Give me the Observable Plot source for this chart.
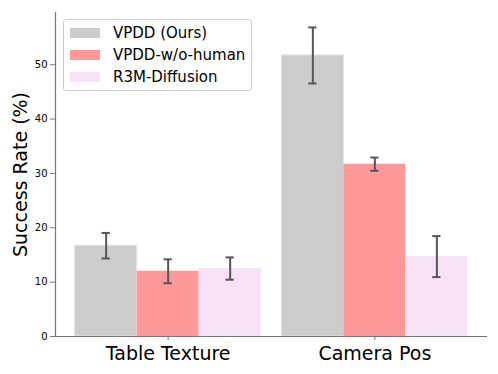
<!DOCTYPE html>
<html>
<head>
<meta charset="utf-8">
<script src="https://cdn.jsdelivr.net/npm/d3@7"></script>
<script src="https://cdn.jsdelivr.net/npm/@observablehq/plot@0.6"></script>
<style>
  html, body { margin: 0; padding: 0; background: #fff; }
  #wrap { position: relative; width: 498px; height: 374px; font-family: "DejaVu Sans", sans-serif; }
  #legend { position: absolute; left: 63px; top: 19px; width: 187px; height: 70px;
    border: 1px solid #d0d0d0; border-radius: 3px; background: rgba(255,255,255,0.8); }
  .row { position: absolute; left: 6px; height: 22px; display: flex; align-items: center; }
  .sw { width: 30px; height: 10px; margin-right: 13px; }
  .lab { font-size: 15px; color: #000; white-space: nowrap; }
</style>
</head>
<body>
<div id="wrap"></div>
<script>
const groups = ["Table Texture", "Camera Pos"];
const methods = ["VPDD (Ours)", "VPDD-w/o-human", "R3M-Diffusion"];
const colors = ["#cccccc", "#ff9999", "#f7e1f5"];
const vpdd = [16.7, 51.7];
const vpddErr = [2.35, 5.15];
const woHuman = [12.0, 31.7];
const woHumanErr = [2.2, 1.22];
const r3m = [12.5, 14.7];
const r3mErr = [2.05, 3.77];
const yTicks = [0, 10, 20, 30, 40, 50];

const seriesVals = [vpdd, woHuman, r3m];
const seriesErr = [vpddErr, woHumanErr, r3mErr];
const barW = 0.3;
const data = [];
methods.forEach((m, j) => {
  groups.forEach((g, i) => {
    data.push({group: g, method: m, value: seriesVals[j][i], err: seriesErr[j][i], pos: i + (j - 1) * barW});
  });
});
const xDomain = [-0.545, 1.545];
const capHalf = 0.02;

const chart = Plot.plot({
  width: 498,
  height: 374,
  marginLeft: 55,
  marginRight: 11,
  marginTop: 12,
  marginBottom: 38,
  style: {fontFamily: "'DejaVu Sans', sans-serif", color: "#000", background: "white"},
  x: {type: "linear", domain: xDomain, axis: null},
  y: {domain: [0, 59.6], axis: null},
  color: {domain: methods, range: colors},
  marks: [
    Plot.rect(data, {x1: d => d.pos - barW / 2, x2: d => d.pos + barW / 2, y1: 0, y2: "value", fill: "method", stroke: d => d.method === methods[0] ? "#e4e4e4" : "none", strokeWidth: 1}),
    Plot.ruleX(data, {x: "pos", y1: d => d.value - d.err, y2: d => d.value + d.err, stroke: "#555", strokeWidth: 2}),
    Plot.ruleY(data, {y: d => d.value + d.err, x1: d => d.pos - capHalf, x2: d => d.pos + capHalf, stroke: "#555", strokeWidth: 2}),
    Plot.ruleY(data, {y: d => d.value - d.err, x1: d => d.pos - capHalf, x2: d => d.pos + capHalf, stroke: "#555", strokeWidth: 2}),
    Plot.axisY({ticks: yTicks, tickSize: 5, tickPadding: 3, fontSize: 10, label: null, stroke: "#777"}),
    Plot.axisX({ticks: [0, 1], tickFormat: i => groups[i], tickSize: 4, tickPadding: 6, fontSize: 19, label: null, stroke: "#777"}),
    Plot.ruleX([xDomain[0]], {stroke: "#777", strokeWidth: 1.2}),
    Plot.ruleY([0], {stroke: "#777", strokeWidth: 1.2}),
    Plot.text(["Success Rate (%)"], {frameAnchor: "left", dx: -35, rotate: -90, textAnchor: "middle", fontSize: 19, fill: "#000"})
  ]
});

const wrap = document.getElementById("wrap");
wrap.appendChild(chart);
const legend = document.createElement("div");
legend.id = "legend";
methods.forEach((m, j) => {
  const row = document.createElement("div");
  row.className = "row";
  row.style.top = (1.5 + j * 22) + "px";
  const sw = document.createElement("div");
  sw.className = "sw";
  sw.style.background = colors[j];
  const lab = document.createElement("span");
  lab.className = "lab";
  lab.textContent = m;
  row.appendChild(sw);
  row.appendChild(lab);
  legend.appendChild(row);
});
wrap.appendChild(legend);
</script>
</body>
</html>
